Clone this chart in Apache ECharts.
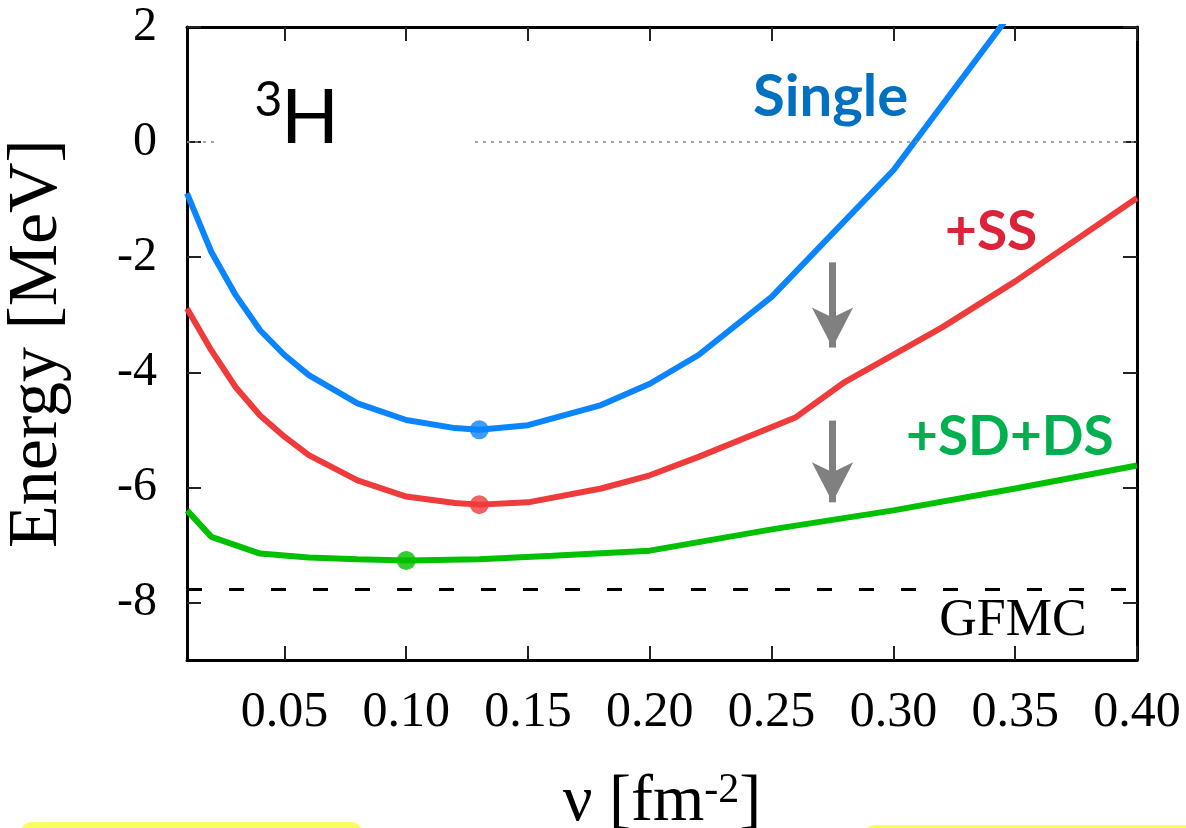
<!DOCTYPE html>
<html>
<head>
<meta charset="utf-8">
<script src="https://cdn.jsdelivr.net/npm/echarts@6/dist/echarts.min.js"></script>
<style>
  html, body { margin: 0; padding: 0; background: #fff; }
  #chart { width: 1186px; height: 828px; }
</style>
</head>
<body>
<div id="chart"></div>
<script>
// Triton (3H) ground-state energy vs. Gaussian range parameter nu
const xTicks = [0.05, 0.10, 0.15, 0.20, 0.25, 0.30, 0.35, 0.40];
const yTicks = [-8, -6, -4, -2, 0, 2];

// Single configuration
const singleNu = [0.01, 0.02, 0.03, 0.04, 0.05, 0.06, 0.08, 0.10, 0.12, 0.13, 0.15, 0.18, 0.20, 0.22, 0.25, 0.30, 0.35];
const singleE  = [-0.89, -1.91, -2.66, -3.27, -3.70, -4.05, -4.54, -4.83, -4.97, -5.00, -4.92, -4.57, -4.20, -3.70, -2.69, -0.49, 2.34];

// + SS excitations
const ssNu = [0.01, 0.02, 0.03, 0.04, 0.05, 0.06, 0.08, 0.10, 0.12, 0.13, 0.15, 0.18, 0.20, 0.22, 0.26, 0.28, 0.32, 0.35, 0.40];
const ssE  = [-2.89, -3.62, -4.26, -4.75, -5.12, -5.44, -5.88, -6.16, -6.27, -6.30, -6.26, -6.02, -5.79, -5.47, -4.78, -4.17, -3.22, -2.42, -0.97];

// + SD + DS excitations
const sdNu = [0.01, 0.02, 0.04, 0.06, 0.08, 0.10, 0.13, 0.16, 0.20, 0.25, 0.30, 0.35, 0.40];
const sdE  = [-6.40, -6.86, -7.15, -7.22, -7.25, -7.27, -7.25, -7.19, -7.10, -6.73, -6.40, -6.02, -5.62];

// Energy minimum of each curve
const minSingle = [0.13, -5.00];
const minSS = [0.13, -6.30];
const minSD = [0.10, -7.27];

// GFMC reference energy
const gfmcE = -7.77;

// Arrows marking the gain from each added channel (start, tip)
const arrowNu = 0.275;
const arrow1 = [-2.09, -3.57];
const arrow2 = [-4.84, -6.26];

const pair = (xs, ys) => xs.map((x, i) => [x, ys[i]]);

const BLUE = '#0a84ff', RED = '#ef3b3b', GREEN = '#00c000';
const SERIF = '"Liberation Serif", "Times New Roman", serif';
const LINE_W = 6;

const frameLine = { show: true, onZero: false, lineStyle: { color: '#000', width: 3 } };
const tickStyle = { color: '#222', width: 2 };

const chart = echarts.init(document.getElementById('chart'), null, { renderer: 'canvas' });

const arrowLine = (ys) => [
  { coord: [arrowNu, ys[0]], symbol: 'none' },
  { coord: [arrowNu, ys[1]], symbol: 'arrow', symbolSize: [31, 40] }
];

chart.setOption({
  animation: false,
  backgroundColor: '#fff',
  grid: { left: 187, right: 49, top: 27, bottom: 168, containLabel: false, outerBoundsMode: 'none' },
  xAxis: [
    {
      type: 'value', min: 0.01, max: 0.40, position: 'bottom',
      axisLine: frameLine,
      axisTick: { show: true, inside: true, length: 14, lineStyle: tickStyle, customValues: xTicks },
      axisLabel: {
        customValues: xTicks, formatter: v => v.toFixed(2),
        fontFamily: SERIF, fontSize: 50, color: '#000', margin: 28
      },
      splitLine: { show: false },
      name: '{a|ν [fm}{s|-2}{a|]}',
      nameLocation: 'middle', nameGap: 110,
      nameTextStyle: {
        rich: {
          a: { fontFamily: SERIF, fontSize: 66, color: '#000' },
          s: { fontFamily: SERIF, fontSize: 42, color: '#000', verticalAlign: 'top', padding: [0, 0, 24, 0] }
        }
      }
    },
    {
      type: 'value', min: 0.01, max: 0.40, position: 'top',
      axisLine: frameLine,
      axisTick: { show: true, inside: true, length: 14, lineStyle: tickStyle, customValues: xTicks },
      axisLabel: { show: false },
      splitLine: { show: false }
    }
  ],
  yAxis: [
    {
      type: 'value', min: -9, max: 2, position: 'left',
      axisLine: frameLine,
      axisTick: { show: true, inside: true, length: 14, lineStyle: tickStyle, customValues: yTicks },
      axisLabel: {
        customValues: yTicks, formatter: v => String(v),
        fontFamily: SERIF, fontSize: 48, color: '#000', margin: 30
      },
      splitLine: { show: false },
      name: 'Energy [MeV]',
      nameLocation: 'middle', nameRotate: 90, nameGap: 114,
      nameTextStyle: { fontFamily: SERIF, fontSize: 70, color: '#000' }
    },
    {
      type: 'value', min: -9, max: 2, position: 'right',
      axisLine: frameLine,
      axisTick: { show: true, inside: true, length: 14, lineStyle: tickStyle, customValues: yTicks },
      axisLabel: { show: false },
      splitLine: { show: false }
    }
  ],
  series: [
    {
      name: 'reference', type: 'line', data: [], silent: true,
      markLine: {
        silent: true, symbol: ['none', 'none'], label: { show: false },
        data: [
          { yAxis: 0, lineStyle: { color: '#8a8a8a', width: 1.5, type: [3, 5] } },
          { yAxis: gfmcE, lineStyle: { color: '#000', width: 3, type: [15, 27] } }
        ]
      },
      z: 1
    },
    {
      name: 'Single', type: 'line', data: pair(singleNu, singleE),
      showSymbol: false, lineStyle: { color: BLUE, width: LINE_W }, itemStyle: { color: BLUE }, z: 3
    },
    {
      name: '+SS', type: 'line', data: pair(ssNu, ssE),
      showSymbol: false, lineStyle: { color: RED, width: LINE_W }, itemStyle: { color: RED }, z: 3
    },
    {
      name: '+SD+DS', type: 'line', data: pair(sdNu, sdE),
      showSymbol: false, lineStyle: { color: GREEN, width: LINE_W }, itemStyle: { color: GREEN }, z: 3
    },
    {
      name: 'minima', type: 'scatter', symbol: 'circle', symbolSize: 19, z: 4,
      data: [
        { value: minSingle, itemStyle: { color: BLUE } },
        { value: minSS, itemStyle: { color: RED } },
        { value: minSD, itemStyle: { color: GREEN } }
      ]
    },
    {
      name: 'arrows', type: 'line', data: [], silent: true,
      markLine: {
        silent: true, label: { show: false },
        lineStyle: { color: '#808080', width: 7, type: 'solid', cap: 'butt' },
        itemStyle: { color: '#808080' },
        data: [arrowLine(arrow1), arrowLine(arrow2)]
      },
      z: 5
    }
  ],
  graphic: [
    // blank box behind the nucleus label
    { type: 'rect', z: 50, shape: { x: 219, y: 55, width: 252, height: 100 }, style: { fill: '#fff' } },
    { type: 'text', z: 60, x: 268.5, y: 101, style: { text: '3', font: '48px Lato', fill: '#000', align: 'center', verticalAlign: 'middle' } },
    { type: 'text', z: 60, x: 310, y: 118, style: { text: 'H', font: '76px Lato', fill: '#000', align: 'center', verticalAlign: 'middle' } },
    { type: 'text', z: 60, x: 753, y: 97, style: { text: 'Single', font: 'bold 58px Lato', fill: '#0070c0', align: 'left', verticalAlign: 'middle' } },
    { type: 'text', z: 60, x: 945, y: 232, style: { text: '+SS', font: 'bold 55px Lato', fill: '#dc2339', align: 'left', verticalAlign: 'middle' } },
    { type: 'text', z: 60, x: 906, y: 437, style: { text: '+SD+DS', font: 'bold 55px Lato', fill: '#00b050', align: 'left', verticalAlign: 'middle' } },
    { type: 'text', z: 60, x: 1013, y: 621, style: { text: 'GFMC', font: '52px "Liberation Serif"', fill: '#000', align: 'center', verticalAlign: 'middle' } },
    // highlight boxes along the bottom edge
    { type: 'rect', z: 0, shape: { x: 20, y: 822, width: 343, height: 40, r: 12 }, style: { fill: '#fbfb62' } },
    { type: 'rect', z: 0, shape: { x: 863, y: 825, width: 340, height: 40, r: 12 }, style: { fill: '#fbfb62' } }
  ]
});
</script>
</body>
</html>
